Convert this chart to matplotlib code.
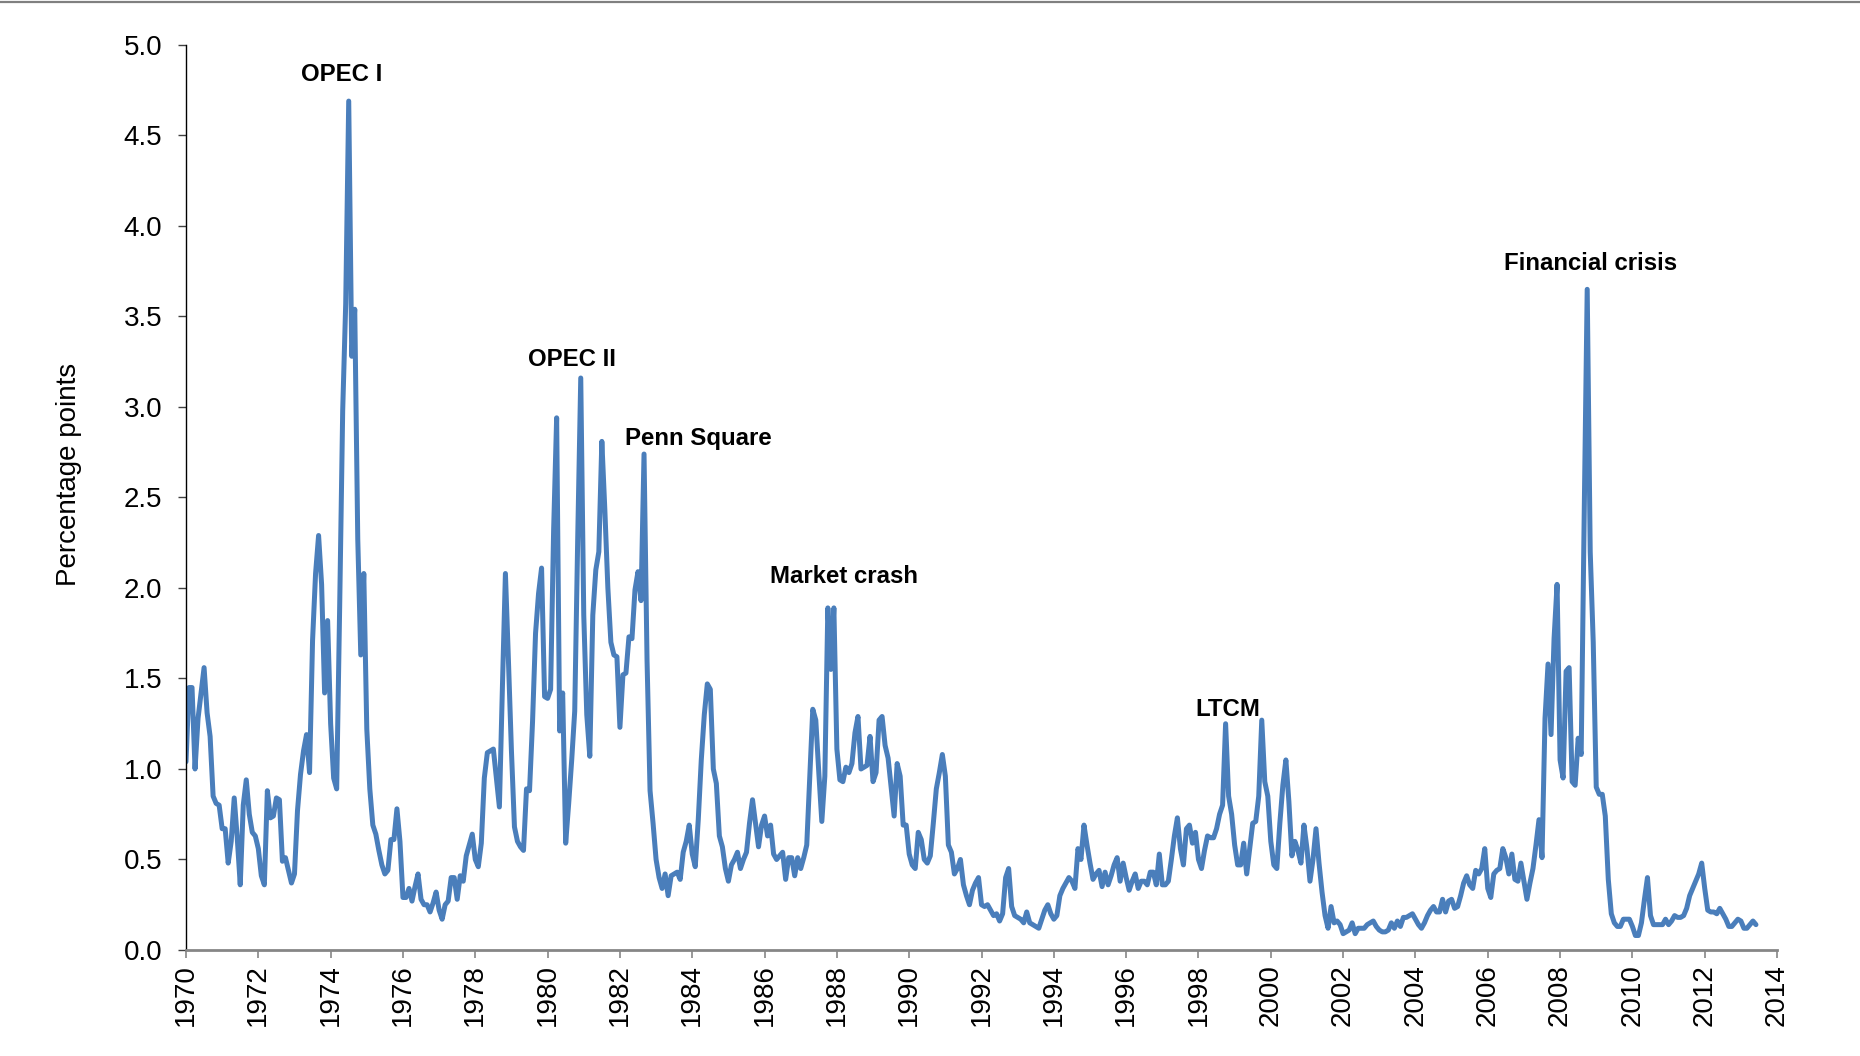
import matplotlib
matplotlib.use('Agg')
import matplotlib.pyplot as plt
from matplotlib.lines import Line2D
import numpy as np

plt.rcParams['font.family'] = ['Liberation Sans', 'DejaVu Sans']

# monthly values, Jan 1970 onwards (percentage points)
vol_1970s = [1.04, 1.45, 1.45, 1.00, 1.28, 1.42, 1.56, 1.31, 1.18, 0.85, 0.81, 0.80,
             0.67, 0.67, 0.48, 0.60, 0.84, 0.62, 0.36, 0.80, 0.94, 0.75, 0.65, 0.63,
             0.56, 0.41, 0.36, 0.88, 0.73, 0.74, 0.84, 0.83, 0.49, 0.51, 0.44, 0.37,
             0.42, 0.77, 0.97, 1.10, 1.19, 0.98, 1.71, 2.08, 2.29, 2.02, 1.42, 1.82,
             1.25, 0.95, 0.89, 1.90, 2.98, 3.57, 4.69, 3.28, 3.54, 2.27, 1.63, 2.08,
             1.22, 0.89, 0.69, 0.64, 0.55, 0.47, 0.42, 0.44, 0.61, 0.61, 0.78, 0.60,
             0.29, 0.29, 0.34, 0.27, 0.35, 0.42, 0.28, 0.25, 0.25, 0.21, 0.26, 0.32,
             0.22, 0.17, 0.25, 0.27, 0.40, 0.40, 0.28, 0.41, 0.38, 0.52, 0.58, 0.64,
             0.50, 0.46, 0.59, 0.95, 1.09, 1.10, 1.11, 0.95, 0.79, 1.45, 2.08, 1.60,
             1.10, 0.68, 0.60, 0.57, 0.55, 0.89, 0.88, 1.26, 1.75, 1.97, 2.11, 1.40]
vol_1980s = [1.39, 1.44, 2.32, 2.94, 1.21, 1.42, 0.59, 0.81, 1.05, 1.32, 2.28, 3.16,
             1.85, 1.30, 1.07, 1.85, 2.10, 2.20, 2.81, 2.43, 2.00, 1.70, 1.63, 1.62,
             1.23, 1.52, 1.53, 1.73, 1.72, 1.99, 2.09, 1.93, 2.74, 1.60, 0.88, 0.70,
             0.50, 0.40, 0.34, 0.42, 0.30, 0.41, 0.42, 0.43, 0.39, 0.54, 0.60, 0.69,
             0.53, 0.46, 0.72, 1.05, 1.30, 1.47, 1.44, 1.00, 0.92, 0.63, 0.57, 0.45,
             0.38, 0.47, 0.50, 0.54, 0.45, 0.50, 0.54, 0.70, 0.83, 0.70, 0.57, 0.69,
             0.74, 0.63, 0.69, 0.53, 0.50, 0.52, 0.54, 0.39, 0.51, 0.51, 0.41, 0.51,
             0.45, 0.51, 0.58, 0.95, 1.33, 1.27, 0.98, 0.71, 0.96, 1.89, 1.55, 1.89,
             1.11, 0.94, 0.93, 1.01, 0.98, 1.03, 1.20, 1.29, 1.00, 1.01, 1.02, 1.18,
             0.93, 0.98, 1.27, 1.29, 1.13, 1.06, 0.90, 0.74, 1.03, 0.96, 0.69, 0.69]
vol_1990s = [0.53, 0.47, 0.45, 0.65, 0.61, 0.50, 0.48, 0.52, 0.70, 0.89, 0.98, 1.08,
             0.96, 0.58, 0.54, 0.42, 0.45, 0.50, 0.36, 0.30, 0.25, 0.33, 0.37, 0.40,
             0.25, 0.24, 0.25, 0.22, 0.19, 0.20, 0.16, 0.20, 0.40, 0.45, 0.24, 0.19,
             0.18, 0.17, 0.15, 0.21, 0.15, 0.14, 0.13, 0.12, 0.17, 0.22, 0.25, 0.20,
             0.17, 0.19, 0.30, 0.34, 0.37, 0.40, 0.38, 0.34, 0.56, 0.50, 0.69, 0.58,
             0.48, 0.39, 0.42, 0.44, 0.35, 0.43, 0.36, 0.41, 0.47, 0.51, 0.38, 0.48,
             0.40, 0.33, 0.38, 0.42, 0.34, 0.38, 0.38, 0.36, 0.43, 0.43, 0.36, 0.53,
             0.36, 0.36, 0.38, 0.50, 0.63, 0.73, 0.56, 0.47, 0.67, 0.69, 0.59, 0.65,
             0.50, 0.45, 0.55, 0.63, 0.62, 0.62, 0.67, 0.75, 0.80, 1.25, 0.85, 0.75,
             0.58, 0.47, 0.47, 0.59, 0.42, 0.56, 0.70, 0.71, 0.85, 1.27, 0.93, 0.85]
vol_2000s = [0.60, 0.47, 0.45, 0.70, 0.91, 1.05, 0.82, 0.52, 0.60, 0.55, 0.48, 0.69,
             0.56, 0.38, 0.50, 0.67, 0.48, 0.32, 0.19, 0.12, 0.24, 0.15, 0.16, 0.14,
             0.09, 0.10, 0.11, 0.15, 0.09, 0.12, 0.12, 0.12, 0.14, 0.15, 0.16, 0.13,
             0.11, 0.10, 0.10, 0.11, 0.15, 0.12, 0.16, 0.13, 0.18, 0.18, 0.19, 0.20,
             0.17, 0.14, 0.12, 0.15, 0.19, 0.22, 0.24, 0.21, 0.21, 0.28, 0.21, 0.27,
             0.28, 0.23, 0.24, 0.30, 0.37, 0.41, 0.36, 0.34, 0.44, 0.42, 0.45, 0.56,
             0.34, 0.29, 0.42, 0.44, 0.45, 0.56, 0.51, 0.42, 0.53, 0.39, 0.38, 0.48,
             0.38, 0.28, 0.37, 0.45, 0.58, 0.72, 0.51, 1.28, 1.58, 1.19, 1.72, 2.02,
             1.05, 0.95, 1.54, 1.56, 0.93, 0.91, 1.17, 1.08, 2.40, 3.65, 2.20, 1.70,
             0.90, 0.86, 0.86, 0.74, 0.39, 0.20, 0.15, 0.13, 0.13, 0.17, 0.17, 0.17]
vol_2010s = [0.13, 0.08, 0.08, 0.15, 0.28, 0.40, 0.19, 0.14, 0.14, 0.14, 0.14, 0.17,
             0.14, 0.16, 0.19, 0.18, 0.18, 0.19, 0.23, 0.30, 0.34, 0.38, 0.42, 0.48,
             0.34, 0.22, 0.21, 0.21, 0.20, 0.23, 0.20, 0.17, 0.13, 0.13, 0.15, 0.17,
             0.16, 0.12, 0.12, 0.14, 0.16, 0.14]

start_year = 1970
events = ['OPEC I', 'OPEC II', 'Penn Square', 'Market crash', 'LTCM', 'Financial crisis']
event_x = [1974.31, 1980.67, 1984.16, 1988.21, 1998.82, 2008.85]
event_y = [4.835, 3.26, 2.825, 2.065, 1.33, 3.79]

vol = np.array(vol_1970s + vol_1980s + vol_1990s + vol_2000s + vol_2010s)
t = start_year + np.arange(len(vol)) / 12.0

fig = plt.figure(figsize=(18.6, 10.56), dpi=100)
ax = fig.add_axes([0.1, 0.1004, 0.8554, 0.857])

ax.plot(t, vol, color='#4A7EBB', lw=3.6, solid_joinstyle='round', solid_capstyle='round')

for lab, ex, ey in zip(events, event_x, event_y):
    ax.text(ex, ey, lab, ha='center', va='center', fontsize=17.3, fontweight='bold')

ax.set_xlim(1970, 2014)
ax.set_ylim(0, 5)
ax.set_xticks(np.arange(1970, 2015, 2))
ax.set_yticks(np.arange(0, 5.01, 0.5))
ax.set_yticklabels(['%.1f' % v for v in np.arange(0, 5.01, 0.5)])
ax.tick_params(axis='x', labelrotation=90, labelsize=20, length=6, width=1.2,
               color='#868686', pad=4, direction='out')
ax.tick_params(axis='y', labelsize=20, length=6, width=1.0, color='#404040',
               pad=11, direction='out')

ax.spines['top'].set_visible(False)
ax.spines['right'].set_visible(False)
ax.spines['left'].set_color('black')
ax.spines['left'].set_linewidth(1.0)
ax.spines['bottom'].set_color('#868686')
ax.spines['bottom'].set_linewidth(2.0)

ax.set_ylabel('Percentage points', fontsize=20, va='center')
ax.yaxis.set_label_coords(-0.0735, 0.525)

# thin grey rule at the very top of the figure
fig.add_artist(Line2D([0, 1], [0.9978, 0.9978], transform=fig.transFigure,
                      color='#808080', lw=1.6))

fig.savefig('out.png', dpi=100)
